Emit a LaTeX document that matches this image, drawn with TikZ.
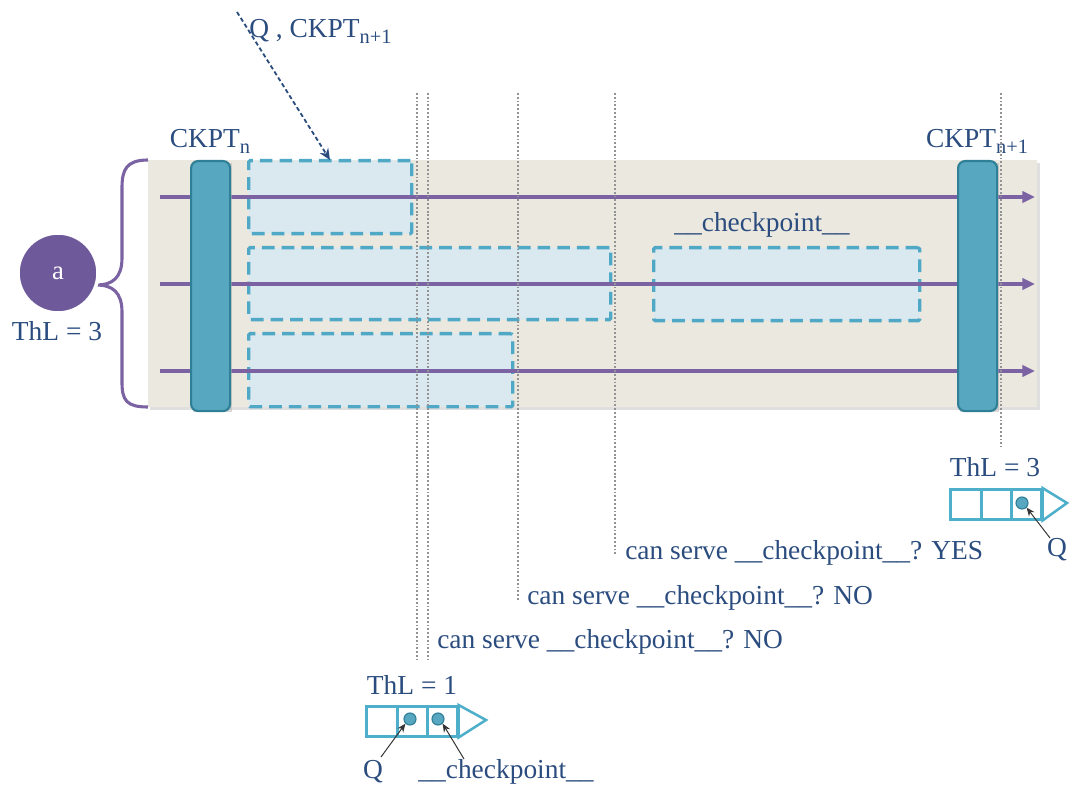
\documentclass[tikz,border=0pt]{standalone}
\usepackage{fontspec}
\setmainfont{Liberation Serif}
\usetikzlibrary{arrows.meta}
\definecolor{txtblue}{HTML}{2B4C7E}
\definecolor{panel}{HTML}{EBE8DF}
\definecolor{barfill}{HTML}{58A7C0}
\definecolor{bardraw}{HTML}{2F7F97}
\definecolor{tline}{HTML}{7A62A3}
\definecolor{boxfill}{HTML}{DAE8EF}
\definecolor{boxdraw}{HTML}{4EA8C6}
\definecolor{circfill}{HTML}{6E5A9A}
\definecolor{qdraw}{HTML}{4EAFCB}
\tikzset{
  lbl/.style={text=txtblue, font=\fontsize{19.5}{21}\selectfont, inner sep=0pt},
  ckbar/.style={fill=barfill, draw=bardraw, line width=1.5pt, rounded corners=5pt},
  tl/.style={draw=tline, line width=2.2pt, -{Triangle[length=9pt,width=8pt]}},
  workbox/.style={fill=boxfill, draw=boxdraw, line width=2.4pt, dash pattern=on 9pt off 5pt, rounded corners=1pt},
  vdot/.style={draw=gray!85, line width=1.8pt, dash pattern=on 1.3pt off 1.4pt},
  qcell/.style={draw=qdraw, line width=1.8pt, fill=white},
  qdot/.style={fill=barfill, draw=bardraw, line width=0.8pt},
  pt/.style={draw=black!80, line width=0.7pt, -{Stealth[length=6pt,width=5pt]}}
}
\newcommand{\sub}[1]{\raisebox{-0.45ex}{\fontsize{14.5}{15}\selectfont #1}}
\begin{document}
\begin{tikzpicture}[x=0.025cm,y=-0.025cm]
\useasboundingbox (0,0) rectangle (1072,787);
% panel
\fill[black!25, opacity=0.5] (150,163) rectangle (1040,410);
\node[fill=panel, minimum width=889*0.025cm, minimum height=247*0.025cm, anchor=north west, inner sep=0pt] (panel) at (148,160) {};
% brace
\draw[tline, line width=2.2pt] (148,160) .. controls (126,160) and (122,170) .. (122,188) -- (122,258) .. controls (122,278) and (112,285) .. (97,285) .. controls (112,285) and (122,292) .. (122,312) -- (122,382) .. controls (122,400) and (126,407) .. (148,407);
% circle a
\node[circle, fill=circfill, draw=white, line width=2.5pt, minimum size=80*0.025cm, text=white, font=\fontsize{19}{21}\selectfont] (a) at (58,273) {a};
\node[lbl] (thl3a) at (57,331) {ThL = 3};
% work boxes
\node[workbox, minimum width=163*0.025cm, minimum height=73*0.025cm, anchor=north west, inner sep=0pt] (b1) at (247,159) {};
\node[workbox, minimum width=362*0.025cm, minimum height=72*0.025cm, anchor=north west, inner sep=0pt] (b2) at (247,246) {};
\node[workbox, minimum width=264*0.025cm, minimum height=73*0.025cm, anchor=north west, inner sep=0pt] (b3) at (247,332) {};
\node[workbox, minimum width=266*0.025cm, minimum height=73*0.025cm, anchor=north west, inner sep=0pt] (b4) at (652,246) {};
\node[lbl] (cpl) at (762,225) {\_\_checkpoint\_\_};
% timelines
\coordinate (t1s) at (160,197); \coordinate (t1e) at (1035,197);
\coordinate (t2s) at (160,284); \coordinate (t2e) at (1035,284);
\coordinate (t3s) at (160,371); \coordinate (t3e) at (1035,371);
\draw[tl] (t1s) -- (t1e);
\draw[tl] (t2s) -- (t2e);
\draw[tl] (t3s) -- (t3e);
% checkpoint bars
\fill[black!30, opacity=0.5] (193,163) rectangle (232,412);
\node[ckbar, minimum width=39*0.025cm, minimum height=250*0.025cm, anchor=north west, inner sep=0pt] (ckn) at (190,160) {};
\fill[black!30, opacity=0.5] (960,163) rectangle (999,412);
\node[ckbar, minimum width=39*0.025cm, minimum height=250*0.025cm, anchor=north west, inner sep=0pt] (ckn1) at (957,160) {};
\node[lbl, anchor=base] (ckpn) at (210,148) {CKPT\sub{n}};
\node[lbl, anchor=base] (ckpn1) at (977,148) {CKPT\sub{n+1}};
% dotted lines
\coordinate (d1t) at (417,93); \coordinate (d1b) at (417,660);
\coordinate (d2t) at (428,93); \coordinate (d2b) at (428,660);
\coordinate (d3t) at (518,93); \coordinate (d3b) at (518,600);
\coordinate (d4t) at (615,93); \coordinate (d4b) at (615,555);
\coordinate (d5t) at (1001,93); \coordinate (d5b) at (1001,447);
\draw[vdot] (d1t) -- (d1b);
\draw[vdot] (d2t) -- (d2b);
\draw[vdot] (d3t) -- (d3b);
\draw[vdot] (d4t) -- (d4b);
\draw[vdot] (d5t) -- (d5b);
\node[lbl, anchor=base west] (yes) at (625,559) {can serve \_\_checkpoint\_\_? YES};
\node[lbl, anchor=base west] (no1) at (527,604) {can serve \_\_checkpoint\_\_? NO};
\node[lbl, anchor=base west] (no2) at (437,648) {can serve \_\_checkpoint\_\_? NO};
% incoming arrow
\coordinate (qs) at (237,12);
\coordinate (qe) at (330,160);
\draw[txtblue, line width=1.3pt, dash pattern=on 3pt off 2pt, -{Stealth[length=8pt,width=7pt]}] (qs) -- (qe);
\node[lbl, anchor=base west] (qlab) at (249,38) {Q , CKPT\sub{n+1}};
% queue ThL=3
\node[lbl] (thl3b) at (995,467) {ThL = 3};
\node[qcell, minimum width=31*0.025cm, minimum height=30*0.025cm, anchor=north west, inner sep=0pt] (r1) at (949,488) {};
\node[qcell, minimum width=30*0.025cm, minimum height=30*0.025cm, anchor=north west, inner sep=0pt] (r2) at (980,488) {};
\node[qcell, minimum width=30*0.025cm, minimum height=30*0.025cm, anchor=north west, inner sep=0pt] (r3) at (1010,488) {};
\draw[qdraw, line width=1.8pt, fill=white] (r3.north east) -- (1067,503) -- (r3.south east) -- cycle;
\node[qdot, circle, minimum size=12*0.025cm, inner sep=0pt] (rd) at (1022,503) {};
\node[lbl] (rq) at (1057,550) {Q};
\draw[pt] (1050,538) -- (rd.south east);
% queue ThL=1
\node[lbl] (thl1) at (412,685) {ThL = 1};
\node[qcell, minimum width=31*0.025cm, minimum height=30*0.025cm, anchor=north west, inner sep=0pt] (s1) at (365,705) {};
\node[qcell, minimum width=30*0.025cm, minimum height=30*0.025cm, anchor=north west, inner sep=0pt] (s2) at (396,705) {};
\node[qcell, minimum width=30*0.025cm, minimum height=30*0.025cm, anchor=north west, inner sep=0pt] (s3) at (426,705) {};
\draw[qdraw, line width=1.8pt, fill=white] (s3.north east) -- (486,720) -- (s3.south east) -- cycle;
\node[qdot, circle, minimum size=12*0.025cm, inner sep=0pt] (sd1) at (410,719) {};
\node[qdot, circle, minimum size=12*0.025cm, inner sep=0pt] (sd2) at (438,719) {};
\node[lbl] (sq) at (373,772) {Q};
\node[lbl] (scp) at (506,772) {\_\_checkpoint\_\_};
\draw[pt] (381,757) -- (sd1.south west);
\draw[pt] (464,759) -- (sd2.south east);
\end{tikzpicture}
\end{document}
